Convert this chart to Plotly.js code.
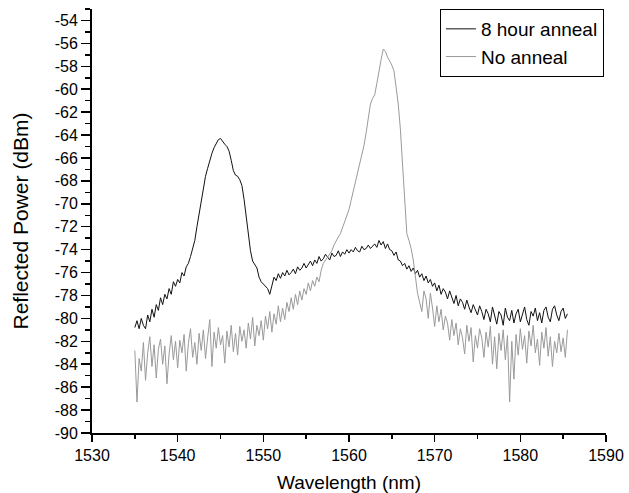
<!DOCTYPE html>
<html>
<head>
<meta charset="utf-8">
<script src="https://cdn.plot.ly/plotly-3.0.1.min.js"></script>
<style>html,body{margin:0;padding:0;background:#fff;}#chart{width:629px;height:493px;}</style>
</head>
<body>
<div id="chart"></div>
<script>
// Wavelength grid (nm): 1535.0 to 1585.5 in 0.25 nm steps
const wlStart = 1535.0;
const wlStep = 0.25;

// 8 hour anneal, reflected power (dBm)
const anneal8h = [
-80.8,-80.2,-80.9,-80.0,-80.6,-80.9,-79.7,-80.3,-79.2,-79.9,
-78.8,-79.3,-78.2,-78.8,-77.9,-78.3,-77.4,-77.9,-76.8,-77.2,
-76.6,-76.9,-76.0,-76.3,-75.5,-75.2,-74.6,-74.0,-73.2,-72.0,
-70.9,-69.6,-68.4,-67.6,-66.9,-66.2,-65.6,-65.1,-64.7,-64.4,
-64.3,-64.6,-64.8,-65.0,-65.4,-66.2,-67.1,-67.5,-67.6,-67.9,
-68.4,-69.6,-71.2,-72.8,-74.1,-75.0,-75.3,-75.6,-76.4,-76.8,
-77.0,-77.2,-77.4,-77.9,-77.1,-76.4,-76.7,-76.1,-76.5,-76.0,
-76.3,-75.8,-76.2,-76.0,-75.7,-76.1,-75.5,-75.8,-75.6,-75.2,
-75.6,-75.3,-75.0,-75.4,-74.9,-75.2,-74.6,-75.0,-74.8,-74.4,
-74.7,-74.9,-74.3,-74.6,-74.5,-74.1,-74.6,-74.2,-74.4,-74.0,
-74.3,-74.0,-74.2,-73.8,-74.1,-74.2,-73.7,-74.0,-73.9,-73.6,
-73.9,-73.7,-73.5,-73.8,-73.2,-73.6,-73.3,-73.9,-73.5,-74.0,
-74.1,-74.5,-74.2,-74.9,-75.0,-75.4,-75.2,-75.7,-75.4,-75.9,
-75.6,-76.1,-75.8,-76.4,-76.1,-76.7,-76.3,-76.9,-76.6,-77.2,
-76.9,-77.6,-77.1,-77.9,-77.4,-77.7,-78.3,-77.6,-78.1,-78.7,
-78.0,-78.9,-78.3,-78.6,-79.2,-78.4,-79.0,-79.5,-78.8,-79.3,
-79.7,-78.9,-79.4,-80.1,-79.2,-79.6,-80.3,-79.0,-79.8,-80.5,
-79.4,-79.7,-80.6,-79.1,-79.9,-80.2,-79.3,-80.4,-79.6,-79.2,
-80.3,-79.7,-79.0,-80.1,-80.6,-79.4,-79.8,-79.1,-80.2,-79.5,
-80.4,-79.3,-79.0,-79.9,-80.3,-79.2,-78.9,-79.7,-80.2,-79.4,
-79.1,-80.0,-79.6
];

// No anneal, reflected power (dBm)
const noAnneal = [
-82.8,-87.3,-83.5,-84.6,-82.1,-85.4,-83.0,-81.6,-84.2,-82.3,
-85.2,-82.7,-81.8,-84.0,-82.4,-85.7,-83.1,-81.5,-83.6,-82.0,
-84.3,-81.9,-83.0,-81.4,-84.6,-82.2,-80.9,-83.4,-82.1,-84.0,
-81.3,-82.8,-81.0,-83.5,-81.7,-80.1,-84.2,-81.2,-82.6,-80.8,
-82.3,-81.5,-83.9,-81.1,-82.5,-80.6,-82.9,-81.3,-83.2,-80.7,
-82.0,-81.0,-82.6,-80.4,-81.8,-79.9,-82.4,-80.6,-81.5,-80.2,
-81.9,-79.8,-80.9,-79.4,-81.2,-79.6,-80.5,-78.9,-80.3,-79.1,
-80.1,-78.6,-79.4,-78.2,-79.2,-77.9,-78.8,-77.6,-78.4,-77.4,
-77.9,-76.9,-77.6,-76.7,-77.2,-76.4,-76.8,-75.8,-75.2,-74.9,
-74.6,-74.3,-74.1,-73.6,-73.2,-72.9,-72.6,-72.1,-71.6,-71.0,
-70.5,-69.7,-68.9,-68.0,-67.3,-66.6,-65.7,-64.9,-63.8,-62.6,
-61.3,-60.8,-60.5,-59.5,-58.3,-57.4,-56.5,-56.7,-57.2,-57.5,
-57.9,-58.4,-59.9,-61.3,-63.5,-66.5,-70.4,-72.6,-73.2,-73.9,
-74.9,-76.2,-77.8,-78.6,-79.4,-77.6,-78.3,-80.0,-77.8,-79.1,
-80.7,-78.9,-80.3,-79.2,-81.0,-79.8,-80.4,-81.9,-80.1,-81.5,
-80.4,-82.3,-80.9,-81.7,-83.1,-80.6,-82.0,-80.8,-83.8,-81.5,
-82.6,-80.9,-81.7,-83.4,-81.2,-82.5,-80.7,-84.0,-81.6,-84.4,
-81.3,-82.8,-81.0,-83.6,-81.5,-87.3,-82.0,-85.3,-81.4,-83.2,
-80.9,-82.7,-81.5,-83.9,-81.1,-82.4,-80.6,-83.0,-81.8,-84.1,
-81.2,-82.6,-80.8,-83.3,-81.6,-84.2,-82.0,-83.0,-81.3,-82.9,
-81.7,-83.4,-81.0
];

const seriesNames = ["8 hour anneal", "No anneal"];
const xTickVals = [1530, 1540, 1550, 1560, 1570, 1580, 1590];
const yTickVals = [-90,-88,-86,-84,-82,-80,-78,-76,-74,-72,-70,-68,-66,-64,-62,-60,-58,-56,-54];
const yTickLabels = yTickVals.map(v => String(v));

const wavelength = anneal8h.map((_, i) => +(wlStart + i * wlStep).toFixed(2));

const font = "Liberation Sans, Arial, sans-serif";

const traces = [
  {x: wavelength, y: anneal8h, name: seriesNames[0], type: "scatter", mode: "lines",
   line: {color: "#111111", width: 1}},
  {x: wavelength, y: noAnneal, name: seriesNames[1], type: "scatter", mode: "lines",
   line: {color: "#9a9a9a", width: 1}}
];

const layout = {
  width: 629, height: 493,
  margin: {l: 92, r: 23, t: 9, b: 60},
  paper_bgcolor: "#fff", plot_bgcolor: "#fff",
  font: {family: font, color: "#000", size: 16},
  showlegend: true,
  legend: {x: 0.996, y: 1.0, xanchor: "right", yanchor: "top",
           bordercolor: "#000", borderwidth: 1, bgcolor: "#fff",
           font: {family: font, size: 19, color: "#000"},
           tracegroupgap: 0},
  xaxis: {
    range: [1530, 1590], tickmode: "array", tickvals: xTickVals,
    showgrid: false, zeroline: false, showline: true, linecolor: "#000", linewidth: 2,
    ticks: "outside", ticklen: 7, tickwidth: 1.5, tickcolor: "#000",
    minor: {tickmode: "linear", tick0: 1530, dtick: 5, ticks: "outside", ticklen: 4, tickwidth: 1.5, tickcolor: "#000", showgrid: false},
    tickfont: {family: font, size: 16},
    title: {text: "Wavelength (nm)", font: {family: font, size: 19}, standoff: 13}
  },
  yaxis: {
    range: [-90, -53], tickmode: "array", tickvals: yTickVals, ticktext: yTickLabels,
    showgrid: false, zeroline: false, showline: true, linecolor: "#000", linewidth: 2,
    ticks: "outside", ticklen: 9, tickwidth: 1.5, tickcolor: "#000",
    minor: {tickmode: "linear", tick0: -90, dtick: 1, ticks: "outside", ticklen: 5, tickwidth: 1.5, tickcolor: "#000", showgrid: false},
    tickfont: {family: font, size: 16},
    title: {text: "Reflected Power (dBm)", font: {family: font, size: 21}, standoff: 20}
  }
};

Plotly.newPlot("chart", traces, layout, {displayModeBar: false, staticPlot: true});
</script>
</body>
</html>
